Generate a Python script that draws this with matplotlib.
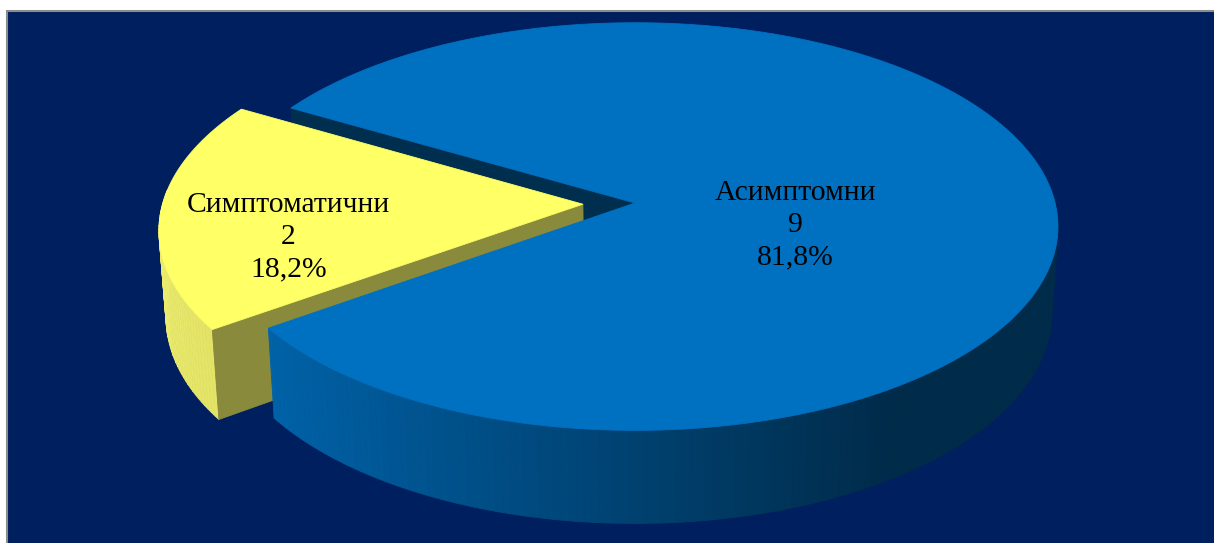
import numpy as np
import matplotlib.pyplot as plt
from matplotlib.patches import Polygon, Rectangle

# slice data
labels = ['Асимптомни', 'Симптоматични']
counts = [9, 2]
explode = [0.0, 0.124]

# colours
top_colors = ['#0070C0', '#FFFF66']
radial_colors = ['#002E4E', '#8A8A3C']
bg_color = '#001F5F'

# 3D view of the pie (pixel units on screen)
CX, CY = 635, 203
FOCAL = 3193.0
DIST = 7.6
ELEV = np.deg2rad(28.6)
THICK = 0.236
START_ANGLE = 215.5


def project(x, y, z):
    c, s = np.cos(ELEV), np.sin(ELEV)
    w = DIST + y * c - z * s
    h = y * s + z * c
    return CX + FOCAL * x / w, CY - FOCAL * h / w


def rim(a0, a1, ox, oy, z, n=200):
    t = np.deg2rad(np.linspace(a0, a1, n))
    return project(ox + np.cos(t), oy + np.sin(t), z + 0 * t)


def top_face(ax, a0, a1, ox, oy, color):
    xs, ys = rim(a0, a1, ox, oy, 0.0)
    px, py = project(ox, oy, 0.0)
    pts = np.column_stack([np.r_[px, xs], np.r_[py, ys]])
    ax.add_patch(Polygon(pts, closed=True, fc=color, ec=color, lw=0.6))


def radial_face(ax, a, ox, oy, color):
    t = np.deg2rad(a)
    xs = [ox, ox + np.cos(t), ox + np.cos(t), ox]
    ys = [oy, oy + np.sin(t), oy + np.sin(t), oy]
    zs = [0.0, 0.0, -THICK, -THICK]
    px, py = project(np.array(xs), np.array(ys), np.array(zs))
    ax.add_patch(Polygon(np.column_stack([px, py]), closed=True,
                         fc=color, ec=color, lw=0.6))


def outer_side(ax, a0, a1, ox, oy, shade, n=160):
    angles = np.linspace(a0, a1, n + 1)
    for lo, hi in zip(angles[:-1], angles[1:]):
        tx, ty = rim(lo, hi, ox, oy, 0.0, 4)
        bx, by = rim(hi, lo, ox, oy, -THICK, 4)
        color = shade(0.5 * (lo + hi))
        ax.add_patch(Polygon(np.column_stack([np.r_[tx, bx], np.r_[ty, by]]),
                             closed=True, fc=color, ec=color, lw=0.6))


def blue_shade(a):
    b = np.clip(0.89 - 0.358 * (np.cos(np.deg2rad(a)) + 0.857), 0.38, 1.0)
    return (0.0, 112 / 255 * b, 192 / 255 * b)


def yellow_shade(a):
    k = np.clip((a - 180) / 35.0, 0, 1)
    return (0.94 - 0.05 * k, 0.94 - 0.05 * k, 0.45 - 0.05 * k)


total = sum(counts)
spans = [360.0 * c / total for c in counts]
starts = [START_ANGLE, (START_ANGLE + spans[0]) % 360]
mids = [s + sp / 2 for s, sp in zip(starts, spans)]
offsets = [(e * np.cos(np.deg2rad(m)), e * np.sin(np.deg2rad(m)))
           for e, m in zip(explode, mids)]

fig = plt.figure(figsize=(12.14, 5.43), dpi=100, facecolor='white')
ax = fig.add_axes([0, 0, 1, 1])
ax.set_xlim(0, 1214)
ax.set_ylim(543, 0)
ax.axis('off')

ax.add_patch(Rectangle((7, 11), 1300, 600, fc=bg_color, ec='#8C8C8C', lw=1.5))

blue_a0, blue_a1 = starts[0], starts[0] + spans[0]
yel_a0, yel_a1 = starts[1], starts[1] + spans[1]
(box, boy), (yox, yoy) = offsets

# back piece: cut face of the large slice, then the exploded small slice
radial_face(ax, blue_a1, box, boy, radial_colors[0])
outer_side(ax, max(yel_a0, 176), yel_a1, yox, yoy, yellow_shade, n=40)
radial_face(ax, yel_a1, yox, yoy, radial_colors[1])
top_face(ax, yel_a0, yel_a1, yox, yoy, top_colors[1])

# large slice in front
outer_side(ax, blue_a0, 364, box, boy, blue_shade)
top_face(ax, blue_a0, blue_a1, box, boy, top_colors[0])

# data labels
label_r = [0.38, 0.70]
for i, (lab, cnt) in enumerate(zip(labels, counts)):
    pct = f'{100 * cnt / total:.1f}'.replace('.', ',') + '%'
    t = np.deg2rad(mids[i])
    ox, oy = offsets[i]
    lx, ly = project(ox + label_r[i] * np.cos(t), oy + label_r[i] * np.sin(t), 0.0)
    ax.text(lx + 1, ly + 26, f'{lab}\n{cnt}\n{pct}', ha='center', va='center',
            fontsize=21.3, family='Liberation Serif', color='black',
            linespacing=1.3)

fig.savefig('out.png', dpi=100, facecolor='white')
